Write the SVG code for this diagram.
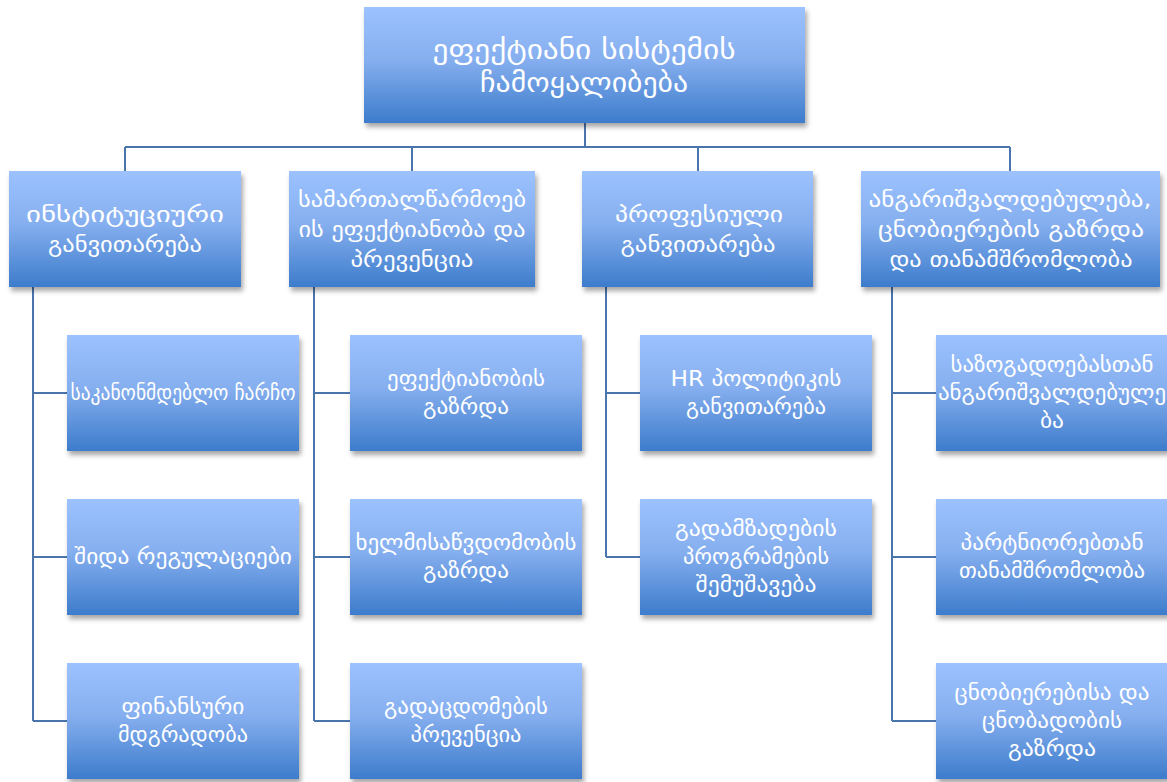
<svg xmlns="http://www.w3.org/2000/svg" width="1167" height="782" viewBox="0 0 1167 782">
<style>
.box{fill:url(#g);filter:url(#sh)}
.t{font-family:"DejaVu Sans",sans-serif;fill:#fff;text-anchor:middle}
.t0{font-size:28px}
.t1{font-size:22px}
.t2{font-size:21px}
.c{stroke:#4a74ac;stroke-width:2;fill:none}
</style>
<defs>
<linearGradient id="g" x1="0" y1="0" x2="0" y2="1">
<stop offset="0" stop-color="#9cc2ff"/>
<stop offset="0.45" stop-color="#86afef"/>
<stop offset="1" stop-color="#3d7ccc"/>
</linearGradient>
<filter id="sh" x="-10%" y="-10%" width="125%" height="130%">
<feDropShadow dx="2" dy="4" stdDeviation="2.5" flood-color="#000" flood-opacity="0.35"/>
</filter>
</defs>
<rect width="1167" height="782" fill="#fff"/>
<g id="connectors">
<path class="c" d="M585 123V147M125 147H1010M125 147V171M412 147V171M698 147V171M1010 147V171"/>
<path class="c" d="M33 287V721M33 393H67M33 557H67M33 721H67"/>
<path class="c" d="M314 287V721M314 393H350M314 557H350M314 721H350"/>
<path class="c" d="M606 287V557M606 393H640M606 557H640"/>
<path class="c" d="M892 287V721M892 393H936M892 557H936M892 721H936"/>
</g>
<g id="root"><rect class="box" x="364" y="7" width="441" height="116"/>
<text class="t t0" x="584" y="59" textLength="303" lengthAdjust="spacingAndGlyphs">ეფექტიანი სისტემის</text><text class="t t0" x="584" y="92" textLength="208" lengthAdjust="spacingAndGlyphs">ჩამოყალიბება</text></g>
<g id="n1"><rect class="box" x="9" y="171" width="232" height="116"/>
<text class="t t1" x="125" y="222" textLength="198" lengthAdjust="spacingAndGlyphs">ინსტიტუციური</text><text class="t t1" x="125" y="252" textLength="154" lengthAdjust="spacingAndGlyphs">განვითარება</text></g>
<g id="n2"><rect class="box" x="289" y="171" width="246" height="116"/>
<text class="t t1" x="412" y="207" textLength="228" lengthAdjust="spacingAndGlyphs">სამართალწარმოებ</text><text class="t t1" x="412" y="237" textLength="227" lengthAdjust="spacingAndGlyphs">ის ეფექტიანობა და</text><text class="t t1" x="412" y="267" textLength="123" lengthAdjust="spacingAndGlyphs">პრევენცია</text></g>
<g id="n3"><rect class="box" x="582" y="171" width="231" height="116"/>
<text class="t t1" x="699" y="222" textLength="168" lengthAdjust="spacingAndGlyphs">პროფესიული</text><text class="t t1" x="698" y="252" textLength="155" lengthAdjust="spacingAndGlyphs">განვითარება</text></g>
<g id="n4"><rect class="box" x="861" y="171" width="299" height="116"/>
<text class="t t1" x="1010" y="207" textLength="283" lengthAdjust="spacingAndGlyphs">ანგარიშვალდებულება,</text><text class="t t1" x="1011" y="237" textLength="266" lengthAdjust="spacingAndGlyphs">ცნობიერების გაზრდა</text><text class="t t1" x="1011" y="267" textLength="243" lengthAdjust="spacingAndGlyphs">და თანამშრომლობა</text></g>
<g id="c11"><rect class="box" x="67" y="335" width="232" height="116"/>
<text class="t t2" x="183" y="400" textLength="225" lengthAdjust="spacingAndGlyphs">საკანონმდებლო ჩარჩო</text></g>
<g id="c12"><rect class="box" x="67" y="499" width="232" height="116"/>
<text class="t t2" x="183" y="564" textLength="218" lengthAdjust="spacingAndGlyphs">შიდა რეგულაციები</text></g>
<g id="c13"><rect class="box" x="67" y="663" width="232" height="116"/>
<text class="t t2" x="183" y="714" textLength="123" lengthAdjust="spacingAndGlyphs">ფინანსური</text><text class="t t2" x="183" y="742" textLength="130" lengthAdjust="spacingAndGlyphs">მდგრადობა</text></g>
<g id="c21"><rect class="box" x="350" y="335" width="232" height="116"/>
<text class="t t2" x="466" y="386" textLength="158" lengthAdjust="spacingAndGlyphs">ეფექტიანობის</text><text class="t t2" x="466" y="414" textLength="86" lengthAdjust="spacingAndGlyphs">გაზრდა</text></g>
<g id="c22"><rect class="box" x="350" y="499" width="232" height="116"/>
<text class="t t2" x="466" y="550" textLength="221" lengthAdjust="spacingAndGlyphs">ხელმისაწვდომობის</text><text class="t t2" x="466" y="578" textLength="86" lengthAdjust="spacingAndGlyphs">გაზრდა</text></g>
<g id="c23"><rect class="box" x="350" y="663" width="232" height="116"/>
<text class="t t2" x="466" y="714" textLength="164" lengthAdjust="spacingAndGlyphs">გადაცდომების</text><text class="t t2" x="466" y="742" textLength="111" lengthAdjust="spacingAndGlyphs">პრევენცია</text></g>
<g id="c31"><rect class="box" x="640" y="335" width="232" height="116"/>
<text class="t t2" x="756" y="386" textLength="171" lengthAdjust="spacingAndGlyphs">HR პოლიტიკის</text><text class="t t2" x="756" y="414" textLength="140" lengthAdjust="spacingAndGlyphs">განვითარება</text></g>
<g id="c32"><rect class="box" x="640" y="499" width="232" height="116"/>
<text class="t t2" x="756" y="536" textLength="162" lengthAdjust="spacingAndGlyphs">გადამზადების</text><text class="t t2" x="756" y="564" textLength="146" lengthAdjust="spacingAndGlyphs">პროგრამების</text><text class="t t2" x="756" y="592" textLength="121" lengthAdjust="spacingAndGlyphs">შემუშავება</text></g>
<g id="c41"><rect class="box" x="936" y="335" width="232" height="116"/>
<text class="t t2" x="1052" y="372" textLength="203" lengthAdjust="spacingAndGlyphs">საზოგადოებასთან</text><text class="t t2" x="1052" y="400" textLength="228" lengthAdjust="spacingAndGlyphs">ანგარიშვალდებულე</text><text class="t t2" x="1052" y="428" textLength="24" lengthAdjust="spacingAndGlyphs">ბა</text></g>
<g id="c42"><rect class="box" x="936" y="499" width="232" height="116"/>
<text class="t t2" x="1052" y="550" textLength="183" lengthAdjust="spacingAndGlyphs">პარტნიორებთან</text><text class="t t2" x="1052" y="578" textLength="186" lengthAdjust="spacingAndGlyphs">თანამშრომლობა</text></g>
<g id="c43"><rect class="box" x="936" y="663" width="232" height="116"/>
<text class="t t2" x="1052" y="700" textLength="195" lengthAdjust="spacingAndGlyphs">ცნობიერებისა და</text><text class="t t2" x="1052" y="728" textLength="140" lengthAdjust="spacingAndGlyphs">ცნობადობის</text><text class="t t2" x="1052" y="756" textLength="88" lengthAdjust="spacingAndGlyphs">გაზრდა</text></g>
</svg>
